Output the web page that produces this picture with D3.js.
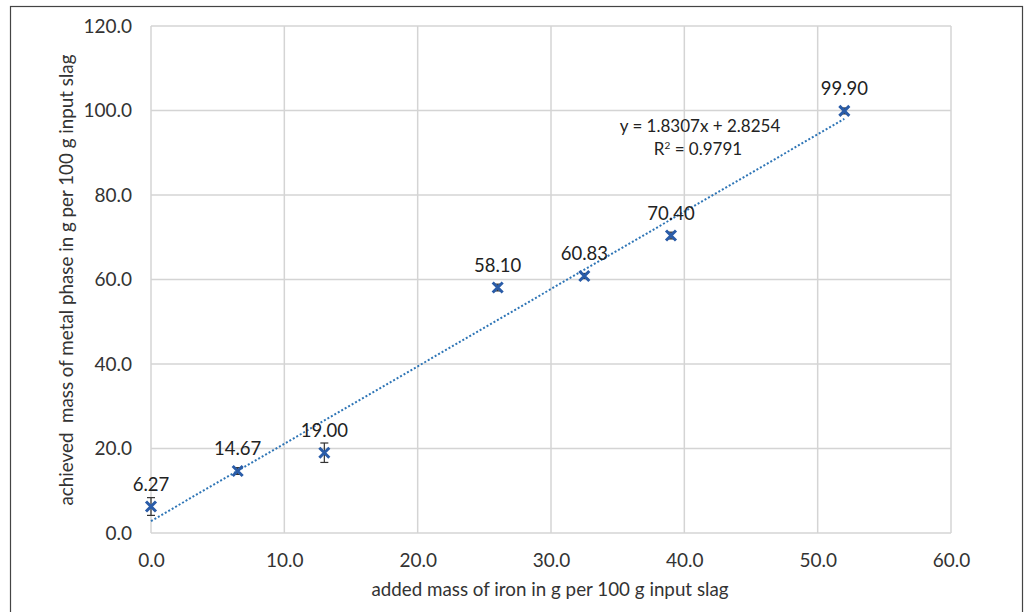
<!DOCTYPE html>
<html>
<head>
<meta charset="utf-8">
<script src="https://cdn.jsdelivr.net/npm/d3@7"></script>
<style>
  html, body { margin: 0; padding: 0; background: #fff; }
  svg { display: block; font-family: Lato, "Open Sans", sans-serif; }
</style>
</head>
<body>
<svg id="chart" width="1027" height="612"></svg>
<script>
// Added iron (g / 100 g slag) vs. achieved metal phase (g / 100 g slag)
const addedIron = [0, 6.5, 13, 26, 32.5, 39, 52];
const metalPhase = [6.27, 14.67, 19.00, 58.10, 60.83, 70.40, 99.90];
const errors = [2.1, 0.8, 2.3, 0.8, 0.6, 0.8, 0.7];
const xTicks = [0, 10, 20, 30, 40, 50, 60];
const yTicks = [0, 20, 40, 60, 80, 100, 120];
const slope = 1.8307, intercept = 2.8254, rSquared = 0.9791;

const svg = d3.select("#chart");
const margin = { left: 151, top: 26, right: 951, bottom: 533 };

const x = d3.scaleLinear().domain([0, 60]).range([margin.left, margin.right]);
const y = d3.scaleLinear().domain([0, 120]).range([margin.bottom, margin.top]);

// outer frame
svg.append("rect")
  .attr("x", 10.5).attr("y", 6.5).attr("width", 1012).attr("height", 640)
  .attr("fill", "none").attr("stroke", "#444").attr("stroke-width", 1.2);

// gridlines
const grid = svg.append("g").attr("stroke", "#d4d4d4").attr("stroke-width", 1.5);
grid.selectAll(".gx").data(xTicks).join("line")
  .attr("x1", d => x(d)).attr("x2", d => x(d))
  .attr("y1", y(0)).attr("y2", y(120));
grid.selectAll(".gy").data(yTicks).join("line")
  .attr("x1", x(0)).attr("x2", x(60))
  .attr("y1", d => y(d)).attr("y2", d => y(d));

// axes (labels only; the lines are the gridlines)
const fmt = d3.format(".1f");
const xAxis = svg.append("g")
  .attr("transform", `translate(0,${y(0)})`)
  .call(d3.axisBottom(x).tickValues(xTicks).tickFormat(fmt).tickSize(0).tickPadding(21));
const yAxis = svg.append("g")
  .attr("transform", `translate(${x(0)},0)`)
  .call(d3.axisLeft(y).tickValues(yTicks).tickFormat(fmt).tickSize(0).tickPadding(19));
[xAxis, yAxis].forEach(a => {
  a.select(".domain").remove();
  a.selectAll("text").attr("font-size", 19).attr("fill", "#333")
    .attr("font-family", "Lato, sans-serif");
});

// axis titles
svg.append("text")
  .attr("x", 550).attr("y", 596)
  .attr("text-anchor", "middle").attr("font-size", 18.8).attr("fill", "#333")
  .text("added mass of iron in g per 100 g input slag");
svg.append("text")
  .attr("transform", "translate(73,280) rotate(-90)")
  .attr("text-anchor", "middle").attr("font-size", 18.8).attr("fill", "#333")
  .attr("xml:space", "preserve").style("white-space", "pre")
  .text("achieved  mass of metal phase in g per 100 g input slag");

// linear trendline
const xEnd = d3.max(addedIron);
svg.append("line")
  .attr("x1", x(0)).attr("y1", y(intercept))
  .attr("x2", x(xEnd)).attr("y2", y(slope * xEnd + intercept))
  .attr("stroke", "#2e75b6").attr("stroke-width", 2)
  .attr("stroke-dasharray", "2,2");

const pts = addedIron.map((v, i) => ({ x: v, y: metalPhase[i], e: errors[i] }));

// error bars
const eb = svg.append("g").attr("stroke", "#333").attr("stroke-width", 1.2);
eb.selectAll(".bar").data(pts).join("line")
  .attr("x1", d => x(d.x)).attr("x2", d => x(d.x))
  .attr("y1", d => y(d.y + d.e)).attr("y2", d => y(d.y - d.e));
eb.selectAll(".capT").data(pts).join("line")
  .attr("x1", d => x(d.x) - 4).attr("x2", d => x(d.x) + 4)
  .attr("y1", d => y(d.y + d.e)).attr("y2", d => y(d.y + d.e));
eb.selectAll(".capB").data(pts).join("line")
  .attr("x1", d => x(d.x) - 4).attr("x2", d => x(d.x) + 4)
  .attr("y1", d => y(d.y - d.e)).attr("y2", d => y(d.y - d.e));

// x-shaped markers
svg.append("g").selectAll("path").data(pts).join("path")
  .attr("d", d => {
    const cx = x(d.x), cy = y(d.y), r = 5;
    return `M${cx - r},${cy - r}L${cx + r},${cy + r}M${cx - r},${cy + r}L${cx + r},${cy - r}`;
  })
  .attr("stroke", "#2a5ca8").attr("stroke-width", 3).attr("fill", "none");

// value labels
svg.append("g").selectAll("text").data(pts).join("text")
  .attr("x", d => x(d.x)).attr("y", d => y(d.y) - 16)
  .attr("text-anchor", "middle").attr("font-size", 18.5).attr("fill", "#222")
  .text(d => d.y.toFixed(2));

// trendline equation
const eq = svg.append("g").attr("font-size", 17).attr("fill", "#222").attr("text-anchor", "middle");
eq.append("text").attr("x", 700).attr("y", 132)
  .text(`y = ${slope}x + ${intercept}`);
const r2 = eq.append("text").attr("x", 698).attr("y", 155);
r2.append("tspan").text("R");
r2.append("tspan").attr("baseline-shift", "super").attr("font-size", 10).text("2");
r2.append("tspan").text(` = ${rSquared}`);
</script>
</body>
</html>
